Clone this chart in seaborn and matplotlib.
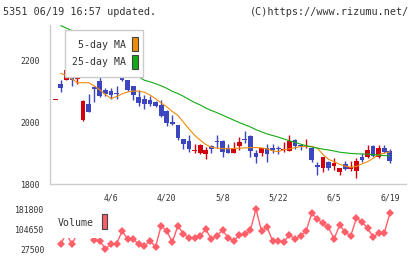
import numpy as np
import pandas as pd
import matplotlib
matplotlib.use("Agg")
import matplotlib.pyplot as plt
import seaborn as sns
from matplotlib.patches import Rectangle

# daily candles, 3/23 .. 6/19
opens = [2073, 2125, 2138, 2178, 2141, 2006, 2058, 2114, 2132, 2104, 2100, 2096, 2166, 2136, 2116, 2082,
         2076, 2073, 2066, 2055, 2037, 2001, 1990, 1945, 1939, 1907, 1901, 1896, 1923, 1938, 1939, 1917,
         1901, 1923, 1945, 1955, 1902, 1899, 1918, 1918, 1914, 1909, 1908, 1942, 1925, 1919, 1918, 1861,
         1851, 1870, 1859, 1840, 1864, 1848, 1842, 1887, 1886, 1923, 1888, 1918, 1906]
highs = [2073, 2138, 2172, 2180, 2162, 2073, 2092, 2117, 2154, 2110, 2110, 2119, 2167, 2138, 2119, 2103,
         2087, 2085, 2068, 2073, 2040, 2023, 1990, 1945, 1958, 1931, 1928, 1920, 1926, 1958, 1943, 1931,
         1937, 1953, 1971, 1960, 1910, 1917, 1931, 1931, 1924, 1935, 1960, 1947, 1931, 1947, 1920, 1872,
         1889, 1875, 1885, 1853, 1875, 1874, 1883, 1899, 1926, 1926, 1926, 1926, 1913]
lows = [2073, 2098, 2136, 2119, 2125, 2004, 2033, 2064, 2082, 2085, 2075, 2076, 2132, 2100, 2073, 2052,
        2044, 2052, 2051, 2018, 1987, 1992, 1942, 1912, 1905, 1899, 1898, 1881, 1900, 1915, 1886, 1900,
        1900, 1910, 1933, 1888, 1867, 1892, 1870, 1899, 1896, 1904, 1906, 1913, 1910, 1915, 1870, 1829,
        1840, 1845, 1845, 1829, 1845, 1842, 1820, 1870, 1883, 1886, 1883, 1899, 1867]
closes = [2073, 2111, 2170, 2138, 2149, 2069, 2033, 2108, 2084, 2091, 2088, 2093, 2138, 2104, 2087, 2062,
          2059, 2058, 2053, 2019, 1998, 1993, 1950, 1931, 1912, 1910, 1926, 1910, 1912, 1936, 1904, 1901,
          1915, 1937, 1943, 1906, 1888, 1917, 1896, 1910, 1912, 1911, 1939, 1924, 1923, 1924, 1877, 1854,
          1886, 1853, 1869, 1853, 1848, 1856, 1874, 1877, 1910, 1890, 1915, 1904, 1875]

ma5 = [np.nan, 2159, 2150, 2140, 2128, 2128, 2128, 2118, 2105, 2090, 2077, 2083, 2092, 2098, 2101, 2101,
       2097, 2088, 2076, 2063, 2050, 2035, 2022, 2000, 1978, 1958, 1942, 1928, 1919, 1916, 1915, 1914,
       1915, 1916, 1917, 1918, 1918, 1917, 1914, 1907, 1905, 1911, 1914, 1918, 1921, 1922, 1922, 1916,
       1896, 1880, 1872, 1864, 1858, 1854, 1857, 1865, 1872, 1883, 1895, 1900, 1904]
ma25 = [np.nan, 2313, 2305, 2297, 2285, 2272, 2260, 2247, 2234, 2222, 2209, 2197, 2184, 2172, 2160, 2147,
        2136, 2131, 2125, 2118, 2110, 2100, 2093, 2084, 2074, 2064, 2056, 2046, 2038, 2031, 2023, 2015,
        2007, 1999, 1992, 1985, 1976, 1969, 1962, 1957, 1952, 1946, 1940, 1935, 1929, 1924, 1920, 1916,
        1913, 1910, 1907, 1903, 1901, 1899, 1898, 1897, 1897, 1895, 1894, 1892, 1891]

volume = [np.nan, 48000, 89000, 46800, 90000, 110000, 100000, 63400, 60700, 28700, 48000, 48000, 98100,
          67200, 66000, 48000, 41400, 59500, 37500, 118500, 98100, 54500, 118500, 86500, 72200, 69900,
          80000, 104600, 67200, 78800, 101900, 72200, 59500, 82700, 85400, 101900, 183000, 98100, 112300,
          59500, 59500, 56800, 82700, 67200, 80000, 98100, 166300, 144400, 127800, 112300, 67200, 121200,
          93100, 80000, 147100, 134000, 108500, 76100, 89200, 89200, 166300]

date_pos = [10, 20, 30, 40, 50, 60]
date_labels = ["4/6", "4/20", "5/8", "5/22", "6/5", "6/19"]
price_ticks = [1800, 2000, 2200]
vol_ticks = [27500, 104650, 181800]

UP = "#d2000f"
DOWN = "#3c46be"
ORANGE = "#f08c0a"
GREEN = "#14aa14"
VOLC = "#ff5f69"
GRID = "#cccccc"
TXT = "#333333"

sns.set_theme(style="white")
plt.rcParams["font.family"] = ["DejaVu Sans Mono"]

W, H = 420, 259


def fx(px):
    return px / W


def fy(py):
    return 1 - py / H


df = pd.DataFrame({"open": opens, "high": highs, "low": lows, "close": closes,
                   "ma5": ma5, "ma25": ma25, "volume": volume})
df["i"] = np.arange(len(df))
up = df["close"] >= df["open"]
colors = np.where(up, UP, DOWN)

fig = plt.figure(figsize=(W / 100, H / 100), dpi=100)
ax = fig.add_axes([fx(50), fy(184), fx(406) - fx(50), fy(25) - fy(184)])
axv = fig.add_axes([fx(50), fy(254), fx(406) - fx(50), fy(205) - fy(254)])

# candles
ax.vlines(df["i"], df["low"], df["high"], colors=colors, lw=1, zorder=2)
body_lo = np.minimum(df["open"], df["close"])
body_h = np.maximum(np.abs(df["close"] - df["open"]), 3)
ax.bar(df["i"], body_h, bottom=body_lo, width=0.85, color=colors, linewidth=0, zorder=2)

sns.lineplot(data=df, x="i", y="ma5", ax=ax, color=ORANGE, lw=0.8, zorder=3)
sns.lineplot(data=df, x="i", y="ma25", ax=ax, color=GREEN, lw=0.8, zorder=3)

xlim = (-0.93, 62.9)
ax.set_xlim(xlim)
ax.set_ylim(1800, 2315)
ax.set_xlabel("")
ax.set_ylabel("")
for s in ["top", "right"]:
    ax.spines[s].set_visible(False)
for s in ["left", "bottom"]:
    ax.spines[s].set_color(GRID)
    ax.spines[s].set_linewidth(1)
ax.set_yticks(price_ticks)
ax.set_yticklabels([str(t) for t in price_ticks])
ax.tick_params(axis="y", direction="inout", length=8, width=1, color=GRID,
               labelsize=5.9, labelcolor=TXT, pad=3)
ax.set_xticks(date_pos)
ax.set_xticklabels(date_labels)
ax.set_xticks(np.linspace(xlim[0], xlim[1], 12), minor=True)
ax.tick_params(axis="x", which="major", length=0, labelsize=5.9, labelcolor=TXT, pad=7)
ax.tick_params(axis="x", which="minor", direction="inout", length=7, width=1, color=GRID)

# volume
sns.lineplot(data=df, x="i", y="volume", ax=axv, color=VOLC, lw=1, marker="D",
             markersize=4.2, markeredgewidth=0)
axv.set_xlim(xlim)
axv.set_ylim(9400, 198400)
axv.set_xlabel("")
axv.set_ylabel("")
for s in axv.spines.values():
    s.set_visible(False)
axv.set_xticks([])
axv.set_yticks(vol_ticks)
axv.set_yticklabels([str(t) for t in vol_ticks])
axv.tick_params(axis="y", length=0, labelsize=5.9, labelcolor=TXT, pad=4)

# header
fig.text(fx(3), fy(12), "5351 06/19 16:57 updated.", ha="left", va="center",
         fontsize=7.3, color=TXT)
fig.text(fx(409), fy(12), "(C)https://www.rizumu.net/", ha="right", va="center",
         fontsize=7.3, color=TXT)

# price legend
fig.add_artist(Rectangle((fx(65), fy(77.3)), fx(78.3), (77.3 - 30) / H, transform=fig.transFigure,
                         facecolor="white", edgecolor=GRID, lw=1, zorder=5))
fig.text(fx(125.5), fy(44.5), "5-day MA", ha="right", va="center", fontsize=7.1, color=TXT, zorder=6)
fig.text(fx(125.5), fy(62), "25-day MA", ha="right", va="center", fontsize=7.1, color=TXT, zorder=6)
fig.add_artist(Rectangle((fx(131.5), fy(51.5)), fx(6), 14.5 / H, transform=fig.transFigure,
                         facecolor=ORANGE, edgecolor="#444444", lw=0.8, zorder=6))
fig.add_artist(Rectangle((fx(131.5), fy(69)), fx(6), 14.5 / H, transform=fig.transFigure,
                         facecolor=GREEN, edgecolor="#444444", lw=0.8, zorder=6))

# volume legend
fig.add_artist(Rectangle((fx(53), fy(237.5)), fx(59), 34.5 / H, transform=fig.transFigure,
                         facecolor="white", edgecolor="none", zorder=5))
fig.text(fx(58), fy(222.5), "Volume", ha="left", va="center", fontsize=7.1, color=TXT, zorder=6)
fig.add_artist(Rectangle((fx(101.5), fy(228.5)), fx(6), 15 / H, transform=fig.transFigure,
                         facecolor=VOLC, edgecolor="#444444", lw=0.8, zorder=6))

fig.savefig("out.png", dpi=100, facecolor="white")
